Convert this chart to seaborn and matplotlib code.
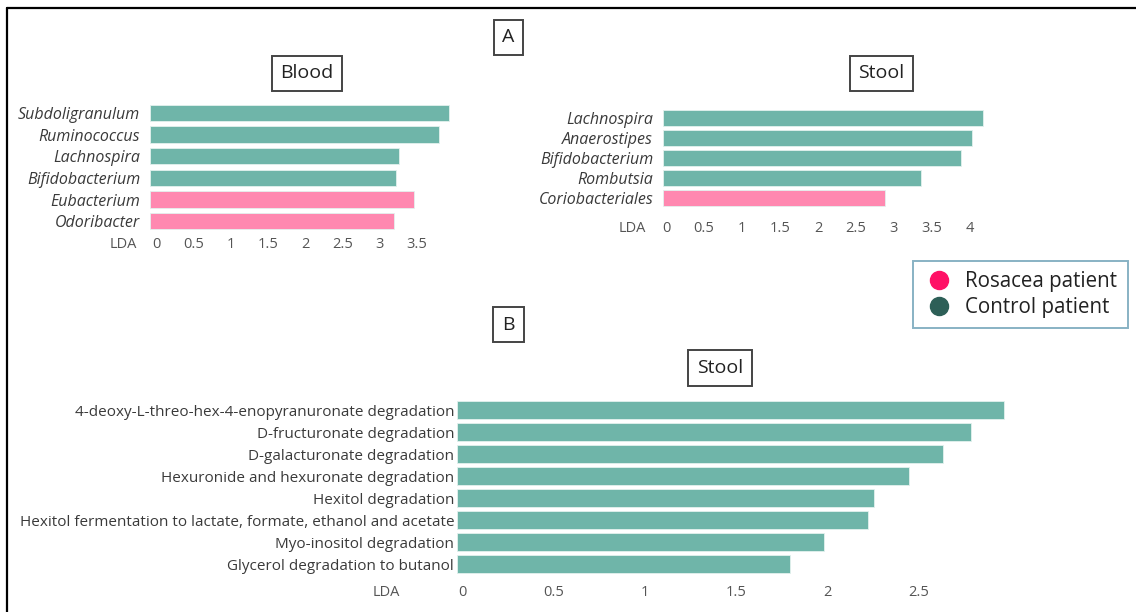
import matplotlib
matplotlib.use("Agg")
import matplotlib.pyplot as plt
from matplotlib.lines import Line2D
from matplotlib.transforms import ScaledTranslation
import seaborn as sns
import pandas as pd

# ---- data -------------------------------------------------------------
blood_taxa = ["Subdoligranulum", "Ruminococcus", "Lachnospira",
              "Bifidobacterium", "Eubacterium", "Odoribacter"]
blood_lda = [4.01, 3.88, 3.34, 3.30, 3.54, 3.27]
blood_group = ["Control", "Control", "Control", "Control", "Rosacea", "Rosacea"]
blood_ticks = [0, 0.5, 1, 1.5, 2, 2.5, 3, 3.5]

stool_taxa = ["Lachnospira", "Anaerostipes", "Bifidobacterium",
              "Rombutsia", "Coriobacteriales"]
stool_lda = [4.21, 4.07, 3.92, 3.39, 2.92]
stool_group = ["Control", "Control", "Control", "Control", "Rosacea"]
stool_ticks = [0, 0.5, 1, 1.5, 2, 2.5, 3, 3.5, 4]

pathways = ["4-deoxy-L-threo-hex-4-enopyranuronate degradation",
            "D-fructuronate degradation",
            "D-galacturonate degradation",
            "Hexuronide and hexuronate degradation",
            "Hexitol degradation",
            "Hexitol fermentation to lactate, formate, ethanol and acetate",
            "Myo-inositol degradation",
            "Glycerol degradation to butanol"]
pathway_lda = [2.99, 2.81, 2.66, 2.47, 2.28, 2.25, 2.01, 1.82]
pathway_group = ["Control"] * len(pathways)
pathway_ticks = [0, 0.5, 1, 1.5, 2, 2.5]

legend_labels = ["Rosacea patient", "Control patient"]

# ---- style ------------------------------------------------------------
sns.set_theme(style="white")
plt.rcParams["font.family"] = ["Open Sans", "DejaVu Sans"]

BAR_COLORS = {"Control": "#6fb5a9", "Rosacea": "#ff88b0"}
MARKER_COLORS = ["#ff1166", "#2d5f57"]
TEXT = "#3a3a3a"
TICK = "#555555"

W, H = 1136, 612
fig = plt.figure(figsize=(W / 100, H / 100), dpi=100)
fig.patch.set_facecolor("white")


def px_axes(x0, y0, x1, y1):
    """Axes from a pixel box measured from the top-left corner."""
    return fig.add_axes([x0 / W, 1 - y1 / H, (x1 - x0) / W, (y1 - y0) / H])


def bar_panel(ax, labels, values, groups, ticks, xmax, italic, label_pad,
              label_size, tick_pad, tick_dx, width):
    df = pd.DataFrame({"label": labels, "lda": values, "group": groups})
    sns.barplot(data=df, x="lda", y="label", hue="group", palette=BAR_COLORS,
                orient="h", dodge=False, width=width, legend=False, ax=ax,
                saturation=1, edgecolor="#e3f1ee", linewidth=0.6)
    ax.set_xlim(0, xmax)
    ax.set_ylim(len(labels) - 0.5, -0.5)
    ax.set_xticks(ticks)
    ax.set_xticklabels([f"{t:g}" for t in ticks])
    ax.set_xlabel("")
    ax.set_ylabel("")
    ax.set_facecolor("none")
    for s in ax.spines.values():
        s.set_visible(False)
    ax.tick_params(axis="both", length=0)
    ax.tick_params(axis="y", pad=label_pad, labelsize=label_size, labelcolor=TEXT)
    ax.tick_params(axis="x", pad=tick_pad, labelsize=10.5, labelcolor=TICK)
    for t in ax.get_yticklabels():
        t.set_style("italic" if italic else "normal")
    off = ScaledTranslation(tick_dx / 100, 0, fig.dpi_scale_trans)
    for t in ax.get_xticklabels():
        t.set_transform(t.get_transform() + off)
    ax.grid(False)


def boxed(x, y, text, size=14):
    fig.text(x / W, 1 - y / H, text, ha="center", va="center", fontsize=size,
             color="#222222",
             bbox=dict(boxstyle="square,pad=0.45", facecolor="white",
                       edgecolor="#444444", linewidth=1.4))


def lda_label(x, y):
    fig.text(x / W, 1 - y / H, "LDA", ha="center", va="center",
             fontsize=10.5, color=TICK)


# Blood (panel A, left)
ax_blood = px_axes(150, 102, 150 + 4.08 * 74.6, 232)
bar_panel(ax_blood, blood_taxa, blood_lda, blood_group, blood_ticks, 4.08,
          True, 7, 11.5, 3.6, 6, 0.74)
lda_label(123, 244)

# Stool (panel A, right)
ax_stool = px_axes(663, 108, 663 + 4.28 * 76, 208)
bar_panel(ax_stool, stool_taxa, stool_lda, stool_group, stool_ticks, 4.28,
          True, 7, 11.5, 9.4, 3, 0.8)
lda_label(632, 228)

# Stool pathways (panel B)
ax_path = px_axes(457, 399, 457 + 3.05 * 182.8, 575)
bar_panel(ax_path, pathways, pathway_lda, pathway_group, pathway_ticks, 3.05,
          False, 2, 11, 7.2, 5, 0.78)
lda_label(386, 592)

# Panel and section headers
boxed(508.5, 37.5, "A")
boxed(508.5, 324.5, "B")
boxed(307, 73.5, "Blood")
boxed(881.5, 73.5, "Stool")
boxed(720, 368, "Stool")

# Legend
handles = [Line2D([], [], linestyle="none", marker="o", markersize=13,
                  markerfacecolor=c, markeredgecolor=c) for c in MARKER_COLORS]
leg = fig.legend(handles, legend_labels, loc="upper left",
                 bbox_to_anchor=(913 / W, 1 - 261 / H), borderaxespad=0,
                 fontsize=14.8, frameon=True, fancybox=False,
                 handletextpad=0.55, labelspacing=0.22, borderpad=0.5,
                 handlelength=1.5, labelcolor="#222222")
leg.get_frame().set_edgecolor("#6a9fb5")
leg.get_frame().set_linewidth(1.4)

# Outer frame (top and left edges)
fig.add_artist(Line2D([7 / W, 1], [1 - 8 / H, 1 - 8 / H], color="black",
                      linewidth=1.6, transform=fig.transFigure))
fig.add_artist(Line2D([7 / W, 7 / W], [0, 1 - 8 / H], color="black",
                      linewidth=1.6, transform=fig.transFigure))

fig.savefig("out.png", dpi=100)
